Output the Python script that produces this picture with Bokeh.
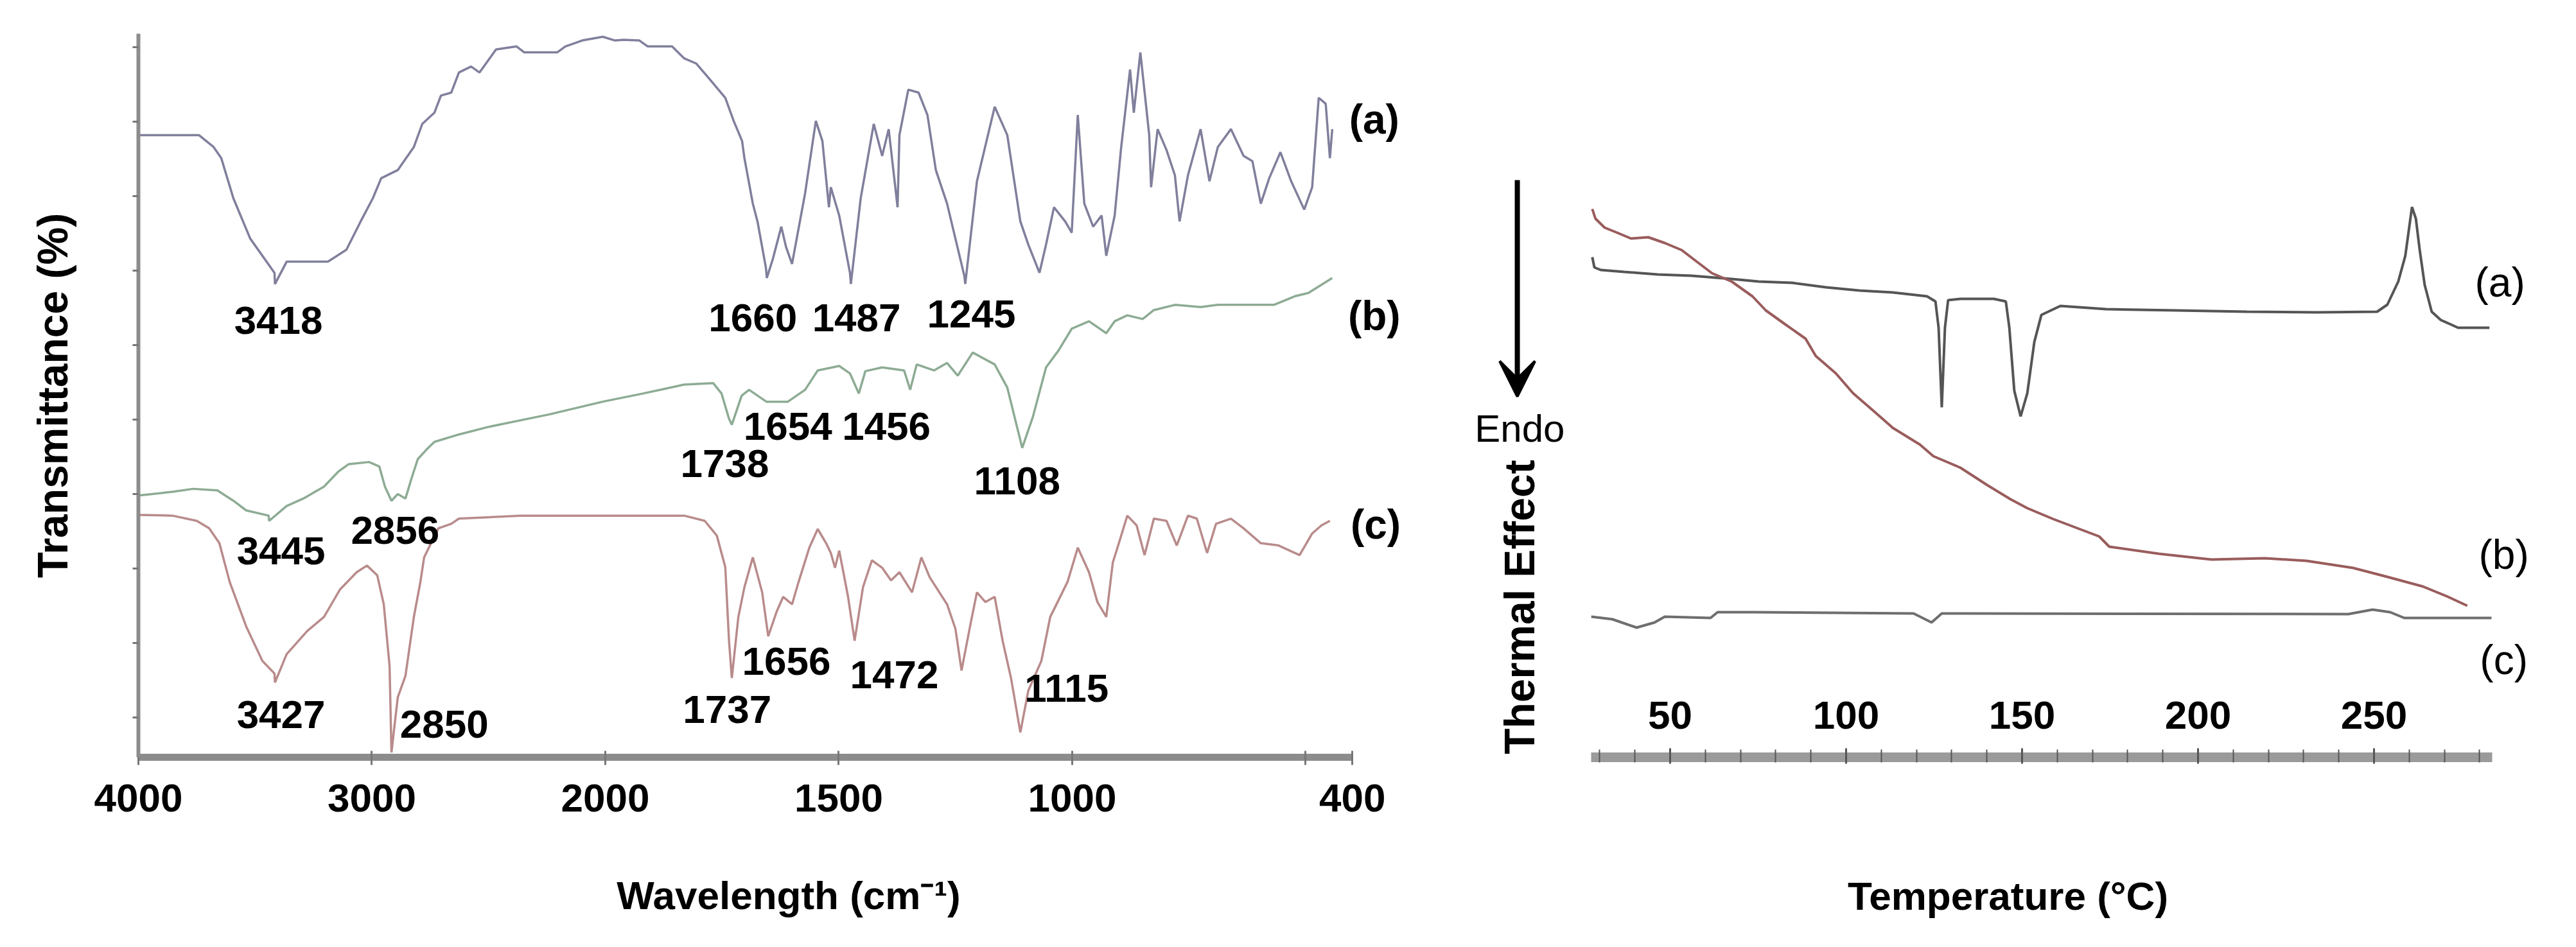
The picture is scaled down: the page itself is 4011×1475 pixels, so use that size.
import numpy as np
from bokeh.plotting import figure
from bokeh.layouts import row
from bokeh.models import (Range1d, FixedTicker, ColumnDataSource, Arrow, VeeHead, Label)
from bokeh.core.properties import value
from bokeh.embed import file_html
from bokeh.resources import INLINE

FONT = "Liberation Sans"

# ---------------- FTIR data (wavenumber cm-1, transmittance a.u.) ----------------
wn_a = [4000, 3741, 3678, 3645, 3593, 3521, 3417, 3415, 3365, 3188, 3109, 3048, 2996, 2960, 2889, 2820, 2784, 2732,
        2704, 2660, 2627, 2575, 2539, 2468, 2380, 2347, 2206, 2171, 2099, 2011, 1979, 1961, 1927, 1909, 1857, 1831,
        1805, 1779, 1743, 1725, 1707, 1702, 1684, 1674, 1656, 1654, 1641, 1623, 1613, 1600, 1572, 1549, 1535, 1521,
        1517, 1499, 1476, 1474, 1453, 1425, 1407, 1393, 1374, 1370, 1351, 1329, 1310, 1292, 1268, 1231, 1229, 1204,
        1166, 1139, 1111, 1094, 1070, 1056, 1039, 1015, 1001, 988, 974, 955, 937, 927, 909, 895, 876, 868, 854, 835,
        831, 817, 798, 780, 770, 752, 725, 706, 688, 660, 633, 614, 596, 578, 554, 531, 503, 486, 472, 457, 448, 443]
T_a = [88.2, 88.2, 86.6, 85.1, 79.7, 74.3, 69.7, 68.2, 71.2, 71.2, 72.8, 76.6, 79.7, 82.4, 83.5, 86.6, 89.7, 91.2,
       93.5, 93.9, 96.6, 97.4, 96.6, 99.7, 100.1, 99.3, 99.3, 100.1, 100.9, 101.4, 100.9, 101.0, 100.9, 100.1, 100.1,
       98.5, 97.8, 95.9, 93.2, 90.1, 87.4, 85.1, 79.0, 76.6, 70.4, 69.0, 71.6, 75.9, 73.2, 70.9, 80.4, 90.1, 87.4,
       78.5, 81.2, 77.4, 69.7, 68.2, 79.7, 89.7, 85.4, 89.0, 78.5, 88.2, 94.3, 93.9, 90.9, 83.5, 79.0, 69.3, 68.2,
       82.0, 92.0, 88.2, 76.6, 73.5, 69.7, 73.5, 78.5, 76.6, 75.1, 90.9, 79.0, 75.9, 77.4, 72.0, 77.4, 86.6, 97.0,
       91.2, 99.3, 88.2, 81.2, 89.0, 86.2, 82.8, 76.6, 82.8, 89.0, 82.0, 86.6, 89.0, 85.4, 84.7, 79.0, 82.4, 85.9,
       82.0, 78.2, 81.2, 93.2, 92.4, 85.1, 89.0]

wn_b = [4000, 3854, 3766, 3662, 3593, 3538, 3442, 3440, 3365, 3293, 3205, 3144, 3100, 3012, 2968, 2944, 2916, 2889,
        2856, 2828, 2803, 2768, 2732, 2627, 2503, 2363, 2239, 2011, 1919, 1831, 1769, 1751, 1735, 1729, 1708, 1692,
        1655, 1609, 1572, 1545, 1499, 1476, 1457, 1443, 1407, 1360, 1347, 1333, 1296, 1268, 1245, 1213, 1166, 1139,
        1107, 1084, 1056, 1029, 1001, 964, 927, 909, 882, 849, 825, 780, 725, 688, 568, 521, 494, 443]
T_b = [39.8, 40.3, 40.7, 40.5, 39.1, 37.8, 37.1, 36.4, 38.4, 39.4, 41.0, 43.0, 44.0, 44.3, 43.7, 41.0, 39.1, 40.0,
       39.4, 42.3, 44.7, 45.9, 47.0, 48.0, 49.0, 49.9, 50.7, 52.4, 53.5, 54.7, 54.9, 53.5, 50.1, 49.3, 53.2, 54.0,
       52.4, 52.4, 54.0, 56.6, 57.2, 56.2, 53.5, 56.5, 57.0, 56.6, 54.0, 57.4, 56.6, 57.6, 55.9, 59.0, 57.4, 54.3,
       46.2, 50.4, 57.0, 59.3, 62.2, 63.2, 61.6, 63.2, 64.0, 63.5, 64.7, 65.4, 65.1, 65.4, 65.4, 66.6, 67.0, 69.0]

wn_c = [4000, 3854, 3750, 3697, 3653, 3609, 3538, 3469, 3417, 3415, 3365, 3277, 3205, 3136, 3065, 3021, 2977, 2949,
        2924, 2916, 2889, 2856, 2820, 2792, 2776, 2715, 2660, 2627, 2363, 2011, 1831, 1787, 1761, 1743, 1735, 1729,
        1715, 1702, 1684, 1664, 1651, 1633, 1619, 1600, 1586, 1563, 1545, 1527, 1517, 1508, 1499, 1480, 1466, 1448,
        1429, 1407, 1388, 1370, 1343, 1323, 1305, 1268, 1250, 1237, 1217, 1204, 1186, 1166, 1149, 1131, 1111, 1094,
        1066, 1047, 1010, 988, 964, 946, 927, 913, 900, 882, 862, 845, 825, 798, 776, 752, 733, 711, 692, 660, 633,
        596, 558, 513, 486, 466, 448]
T_c = [37.2, 37.1, 36.4, 35.4, 33.4, 28.2, 22.2, 17.6, 15.9, 14.7, 18.5, 21.6, 23.5, 27.2, 29.5, 30.4, 29.1, 25.2,
       16.9, 5.3, 12.7, 15.6, 23.5, 28.2, 31.5, 35.4, 36.0, 36.7, 37.1, 37.1, 37.1, 36.4, 34.4, 30.2, 20.3, 15.3,
       23.5, 27.5, 31.5, 26.8, 20.9, 24.2, 26.2, 25.2, 28.2, 32.8, 35.3, 33.4, 32.1, 30.1, 32.4, 26.2, 20.3, 27.5,
       31.1, 30.1, 28.4, 29.5, 26.8, 31.5, 28.8, 25.2, 21.9, 16.3, 22.8, 26.8, 25.5, 26.2, 20.3, 15.3, 8.0, 13.6,
       17.6, 23.5, 28.2, 32.8, 29.5, 25.5, 23.5, 30.8, 33.4, 37.1, 35.8, 31.8, 36.7, 36.4, 33.1, 37.1, 36.7, 32.1,
       36.0, 36.7, 35.4, 33.4, 33.1, 31.8, 34.7, 35.8, 36.4]

ftir_ticks_wn = [4000, 3000, 2000, 1500, 1000, 400]
ftir_tick_text = ["4000", "3000", "2000", "1500", "1000", "400"]
ftir_minor_wn = [500]
ftir_ytick_vals = [10, 20, 30, 40, 50, 60, 70, 80, 90, 100]

peak_text = ["3418", "1660", "1487", "1245", "1654", "1456", "1738", "1108",
             "3445", "2856", "3427", "2850", "1737", "1656", "1472", "1115"]
peak_wn = [3400, 1684, 1462, 1216, 1609, 1398, 1744, 1118, 3389, 2900, 3389, 2690, 1739, 1612, 1381, 1012]
peak_T = [63.3, 63.7, 63.7, 64.2, 49.1, 49.1, 44.1, 41.8, 32.4, 35.1, 10.4, 9.1, 11.1, 17.5, 15.7, 13.9]

series_text = ["(a)", "(b)", "(c)"]
ftir_series_wn = [353, 353, 350]
ftir_series_T = [90.3, 63.9, 35.9]

# ---------------- DSC data (temperature °C, heat flow a.u.) ----------------
dsc_a_T = [27.9, 28.5, 30.3, 37.0, 46.5, 56.2, 67.5, 75.2, 84.7, 94.3, 103.8, 113.3, 123.0, 125.4, 126.3, 127.2,
           128.1, 129.0, 132.5, 142.0, 145.4, 146.4, 147.8, 149.6, 151.5, 153.5, 155.5, 160.9, 173.9, 194.0, 213.9,
           233.9, 250.9, 253.8, 256.9, 258.9, 260.0, 260.8, 261.9, 263.0, 264.4, 266.4, 269.0, 271.9, 273.9, 282.8]
dsc_a_y = [77.2, 75.6, 75.2, 74.9, 74.5, 74.3, 73.8, 73.4, 73.2, 72.5, 72.0, 71.7, 71.1, 70.3, 66.2, 53.8, 66.2,
           70.5, 70.7, 70.7, 70.3, 66.2, 56.4, 52.4, 56.0, 64.0, 68.2, 69.6, 69.1, 68.9, 68.7, 68.6, 68.7, 69.8,
           73.4, 77.4, 81.8, 85.0, 83.2, 78.3, 72.9, 68.7, 67.4, 66.7, 66.2, 66.2]
dsc_b_T = [27.9, 28.8, 31.4, 35.0, 38.9, 43.8, 48.5, 53.3, 57.1, 61.9, 67.5, 73.4, 77.2, 82.8, 88.5, 91.4, 97.1,
           102.0, 107.7, 113.3, 121.0, 124.8, 132.5, 140.1, 146.7, 151.5, 158.9, 171.9, 174.8, 188.9, 203.8, 219.0,
           230.8, 244.0, 253.8, 263.9, 271.0, 276.5]
dsc_b_y = [84.7, 83.2, 81.8, 81.0, 80.1, 80.3, 79.4, 78.3, 76.7, 74.7, 73.4, 71.1, 68.9, 66.7, 64.5, 61.8, 59.1,
           56.0, 53.3, 50.6, 48.0, 46.2, 44.4, 41.7, 39.5, 38.1, 36.4, 33.7, 32.1, 31.0, 30.1, 30.3, 29.9, 28.8,
           27.4, 25.9, 24.3, 22.9]
dsc_c_T = [27.6, 33.6, 40.5, 45.6, 48.5, 61.5, 63.5, 73.4, 119.2, 124.3, 127.2, 242.7, 249.6, 254.6, 258.6, 283.4]
dsc_c_y = [21.2, 20.8, 19.5, 20.3, 21.2, 21.0, 21.9, 21.9, 21.7, 20.3, 21.7, 21.6, 22.3, 21.9, 21.0, 21.0]

dsc_ticks = [50, 100, 150, 200, 250]
dsc_minor = list(range(30, 290, 10))
dsc_series_T = [285.8, 286.9, 286.9]
dsc_series_y = [73.3, 30.9, 14.5]


def wn_to_pos(w):
    """FTIR axis: 1000 cm-1 per unit above 2000, 500 cm-1 per unit below (scale change at 2000)."""
    w = np.asarray(w, dtype=float)
    return np.where(w >= 2000, 4000 - w, 2000 + (2000 - w) * 2)


# common frame: top / bottom borders identical in both panels
TOP, BOTTOM, H = 52, 280, 1459

# ================= Left: FTIR =================
p1 = figure(width=2250, height=H, x_range=Range1d(0, 5571), y_range=Range1d(4.655, 101.81),
            output_backend="svg", toolbar_location=None,
            min_border_left=215, min_border_right=10, min_border_top=TOP, min_border_bottom=BOTTOM)
p1.outline_line_color = None
p1.xgrid.visible = False
p1.ygrid.visible = False

for wn, T, col in [(wn_a, T_a, "#807f9c"), (wn_b, T_b, "#8dab94"), (wn_c, T_c, "#b98b8b")]:
    p1.line(wn_to_pos(wn), T, line_color=col, line_width=3.5)

tick_pos = [float(v) for v in wn_to_pos(ftir_ticks_wn)]
xa = p1.xaxis[0]
xa.ticker = FixedTicker(ticks=tick_pos, minor_ticks=[float(v) for v in wn_to_pos(ftir_minor_wn)])
xa.major_label_overrides = {tp: t for tp, t in zip(tick_pos, ftir_tick_text)}
xa.bounds = (0, 5200)
xa.axis_line_color = "#8c8c8c"
xa.axis_line_width = 11
xa.major_tick_line_color = "#777777"
xa.major_tick_line_width = 3
xa.major_tick_in = 10
xa.major_tick_out = 12
xa.minor_tick_line_color = "#777777"
xa.minor_tick_line_width = 3
xa.minor_tick_in = 10
xa.minor_tick_out = 12
xa.major_label_standoff = 30
xa.major_label_text_font = FONT
xa.major_label_text_font_size = "62px"
xa.major_label_text_font_style = "bold"
xa.major_label_text_color = "black"
xa.axis_label = "Wavelength (cm\u207b\u00b9)"
xa.axis_label_text_font = FONT
xa.axis_label_text_font_size = "62px"
xa.axis_label_text_font_style = "bold"
xa.axis_label_text_color = "black"
xa.axis_label_standoff = 93

ya = p1.yaxis[0]
ya.ticker = FixedTicker(ticks=[], minor_ticks=ftir_ytick_vals)
ya.axis_line_color = "#8c8c8c"
ya.axis_line_width = 6
ya.major_tick_line_color = None
ya.minor_tick_line_color = "#777777"
ya.minor_tick_line_width = 3
ya.minor_tick_in = 0
ya.minor_tick_out = 9
ya.axis_label = "Transmittance (%)"
ya.axis_label_text_font = FONT
ya.axis_label_text_font_size = "66px"
ya.axis_label_text_font_style = "bold"
ya.axis_label_text_color = "black"
ya.axis_label_standoff = 88

src_peaks = ColumnDataSource(dict(x=wn_to_pos(peak_wn), y=peak_T, t=peak_text))
p1.text(x="x", y="y", text="t", source=src_peaks, text_font=value(FONT), text_font_size="62px",
        text_font_style="bold", text_align="center", text_baseline="middle", text_color="black")
src_ser = ColumnDataSource(dict(x=wn_to_pos(ftir_series_wn), y=ftir_series_T, t=series_text))
p1.text(x="x", y="y", text="t", source=src_ser, text_font=value(FONT), text_font_size="64px",
        text_font_style="bold", text_align="center", text_baseline="middle", text_color="black")

# ================= Right: DSC =================
p2 = figure(width=1745, height=H, x_range=Range1d(-10.2, 302.2), y_range=Range1d(-0.7, 112.0),
            output_backend="svg", toolbar_location=None,
            min_border_left=20, min_border_right=13, min_border_top=TOP, min_border_bottom=BOTTOM)
p2.outline_line_color = None
p2.xgrid.visible = False
p2.ygrid.visible = False
p2.yaxis.visible = False

p2.line(dsc_a_T, dsc_a_y, line_color="#555555", line_width=4)
p2.line(dsc_b_T, dsc_b_y, line_color="#9a5c5c", line_width=4)
p2.line(dsc_c_T, dsc_c_y, line_color="#6e6e6e", line_width=4)

xb = p2.xaxis[0]
xb.ticker = FixedTicker(ticks=dsc_ticks, minor_ticks=dsc_minor)
xb.bounds = (27.6, 283.6)
xb.axis_line_color = "#9a9a9a"
xb.axis_line_width = 15
xb.major_tick_line_color = "#555555"
xb.major_tick_line_width = 3
xb.major_tick_in = 14
xb.major_tick_out = 10
xb.minor_tick_line_color = "#555555"
xb.minor_tick_line_width = 2
xb.minor_tick_in = 12
xb.minor_tick_out = 8
xb.major_label_standoff = -97
xb.major_label_text_font = FONT
xb.major_label_text_font_size = "62px"
xb.major_label_text_font_style = "bold"
xb.major_label_text_color = "black"
xb.axis_label = "Temperature (\u00b0C)"
xb.axis_label_text_font = FONT
xb.axis_label_text_font_size = "62px"
xb.axis_label_text_font_style = "bold"
xb.axis_label_text_color = "black"
xb.axis_label_standoff = 223

src_dsc_ser = ColumnDataSource(dict(x=dsc_series_T, y=dsc_series_y, t=series_text))
p2.text(x="x", y="y", text="t", source=src_dsc_ser, text_font=value(FONT), text_font_size="64px",
        text_align="center", text_baseline="middle", text_color="black")

p2.add_layout(Arrow(end=VeeHead(size=55, fill_color="black", line_color="black", line_width=4),
                    x_start=6.6, y_start=89.2, x_end=6.6, y_end=55.5,
                    line_width=8, line_color="black"))
p2.add_layout(Label(x=7.3, y=50.5, text="Endo", text_font=FONT, text_font_size="60px",
                    text_align="center", text_baseline="middle", text_color="black"))
p2.add_layout(Label(x=7.3, y=22.7, text="Thermal Effect", text_font=FONT, text_font_size="66px",
                    text_font_style="bold", angle=np.pi / 2, text_align="center", text_baseline="middle",
                    text_color="black"))

layout = row(p1, p2)
open("out.html", "w").write(file_html(layout, INLINE))
